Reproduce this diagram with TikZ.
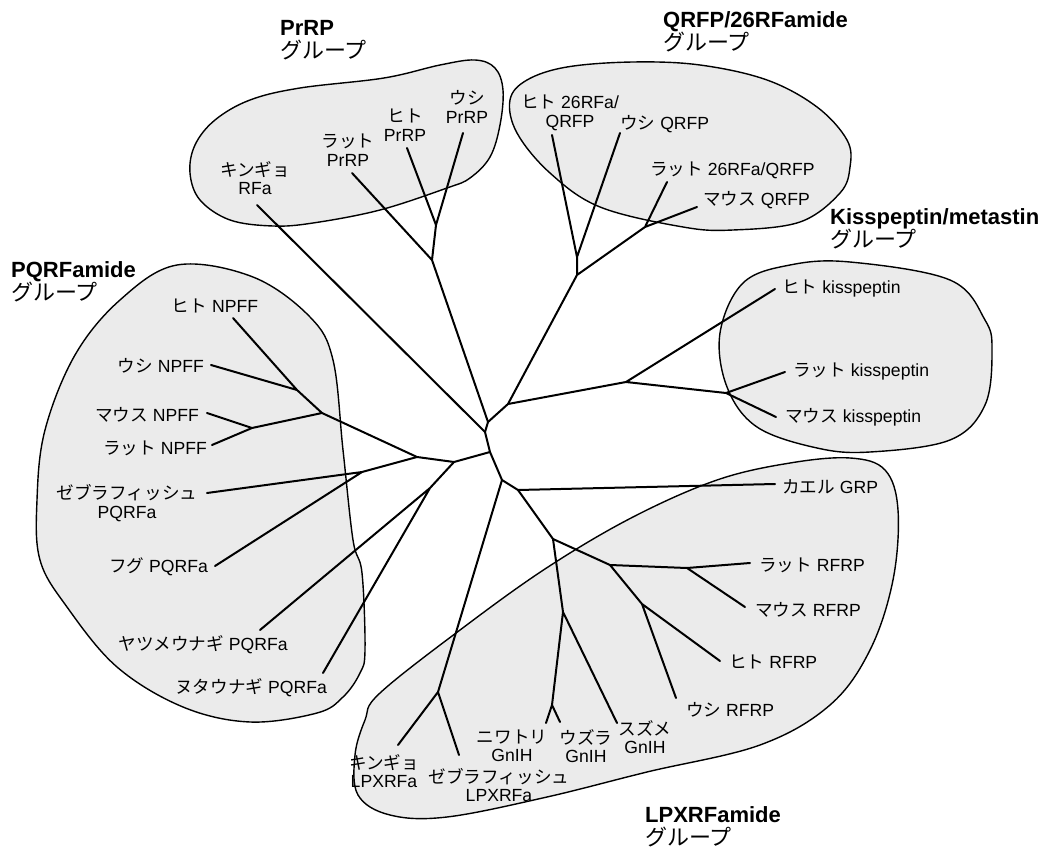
\documentclass[tikz,border=0pt]{standalone}
\usepackage{fontspec}
\setmainfont{Liberation Sans}
\newfontfamily\jpfont{Noto Sans CJK JP}
\newcommand{\jp}[1]{{\jpfont #1}}
\definecolor{blobgray}{HTML}{EBEBEB}

\begin{document}
\begin{tikzpicture}[x=1pt, y=-1pt,
    branch/.style = {line width=2pt, line cap=round},
    grp/.style = {draw, line width=1.4pt, fill=blobgray},
    lbl/.style = {font=\fontsize{17.6}{18.5}\selectfont, align=center, inner sep=0pt},
    ttl/.style = {font=\fontsize{22}{23.5}\selectfont, align=left, anchor=north west, inner sep=0pt}]
\useasboundingbox (0,0) rectangle (1046,850);

    % group outlines
    \draw[grp] plot[smooth cycle, tension=0.6] coordinates {(190,173) (195,145) (215,120) (250,100) (300,88) (384,78) (440,65) (475,60) (495,68) (503,90) (500,125) (490,157) (470,178) (447,188) (380,210) (313,223) (273,226) (230,220) (200,200)};
    \draw[grp] plot[smooth cycle, tension=0.6] coordinates {(510,100) (527,80) (567,67) (633,62) (700,65) (767,80) (817,107) (847,140) (850,167) (840,193) (800,222) (733,230) (683,227) (600,207) (550,173) (517,133)};
    \draw[grp] plot[smooth cycle, tension=0.6] coordinates {(720,333) (743,283) (790,265) (850,262) (950,280) (985,320) (992,350) (985,405) (950,440) (870,452) (817,448) (757,427) (727,387)};
    \draw[grp] plot[smooth cycle, tension=0.6] coordinates {(177,265) (120,300) (75,355) (45,430) (37,500) (40,560) (67,607) (117,667) (183,707) (250,722) (317,713) (343,697) (360,673) (365,650) (362,573) (353,540) (343,450) (333,360) (310,317) (253,277)};
    \draw[grp] plot[smooth cycle, tension=0.6] coordinates {(380,693) (464,627) (548,567) (633,517) (717,480) (790,463) (850,458) (885,470) (898,510) (893,580) (870,650) (830,705) (760,745) (647,772) (547,797) (447,817) (390,815) (358,795) (355,755) (365,720)};

    % group titles
    \node[ttl] (tPrRP) at (280,20) {\textbf{PrRP}\\\jp{グループ}};
    \node[ttl] (tQRFP) at (663,11) {\textbf{QRFP/26RFamide}\\\jp{グループ}};
    \node[ttl] (tKiss) at (830,208) {\textbf{Kisspeptin/metastin}\\\jp{グループ}};
    \node[ttl] (tPQRF) at (11,261) {\textbf{PQRFamide}\\\jp{グループ}};
    \node[ttl] (tLPX) at (645,806) {\textbf{LPXRFamide}\\\jp{グループ}};

    % inner joints
    \coordinate (c1) at (488,422);
    \coordinate (c2) at (485,432);
    \coordinate (c3) at (490,452);
    \coordinate (c4) at (502,480);
    \coordinate (c5) at (518,490);
    \coordinate (pj1) at (432,260);
    \coordinate (pj2) at (436,225);
    \coordinate (q0) at (508,404);
    \coordinate (qj0) at (577,275);
    \coordinate (qj1) at (577,257);
    \coordinate (qj2) at (645,227);
    \coordinate (kj1) at (626,382);
    \coordinate (kj2) at (726,393);
    \coordinate (aj0) at (454,462);
    \coordinate (aj1) at (417,457);
    \coordinate (nj0) at (322,413);
    \coordinate (nj1) at (297,390);
    \coordinate (nj2) at (252,428);
    \coordinate (fj) at (362,472);
    \coordinate (hj) at (430,488);
    \coordinate (lj) at (438,692);
    \coordinate (rj0) at (553,539);
    \coordinate (rj1) at (610,565);
    \coordinate (rj2) at (687,568);
    \coordinate (rj3) at (642,604);
    \coordinate (gj0) at (563,612);
    \coordinate (gj1) at (552,705);

    % leaf ends
    \coordinate (lkRFa) at (257,205);
    \coordinate (lrPrRP) at (352,173);
    \coordinate (lhPrRP) at (407,148);
    \coordinate (luPrRP) at (463,133);
    \coordinate (lhQRFP) at (552,135);
    \coordinate (luQRFP) at (620,133);
    \coordinate (lrQRFP) at (667,182);
    \coordinate (lmQRFP) at (697,207);
    \coordinate (lhKiss) at (775,289);
    \coordinate (lrKiss) at (785,372);
    \coordinate (lmKiss) at (776,417);
    \coordinate (lhNPFF) at (233,318);
    \coordinate (luNPFF) at (211,365);
    \coordinate (lmNPFF) at (207,413);
    \coordinate (lrNPFF) at (212,445);
    \coordinate (lzPQ) at (207,493);
    \coordinate (lfPQ) at (215,566);
    \coordinate (lyPQ) at (260,630);
    \coordinate (lnPQ) at (323,673);
    \coordinate (lGRP) at (775,484);
    \coordinate (lrRF) at (750,563);
    \coordinate (lmRF) at (745,607);
    \coordinate (lhRF) at (720,661);
    \coordinate (luRF) at (676,698);
    \coordinate (lnGn) at (546,723);
    \coordinate (lwGn) at (560,722);
    \coordinate (lsGn) at (617,723);
    \coordinate (lkLPX) at (398,745);
    \coordinate (lzLPX) at (459,755);

    % tree
    \draw[branch] (lkRFa) -- (c2) -- (c3) -- (c4) -- (c5) -- (lGRP);
    \draw[branch] (c2) -- (c1) -- (q0) -- (kj1) -- (lhKiss) (kj1) -- (kj2) -- (lrKiss) (kj2) -- (lmKiss);
    \draw[branch] (c1) -- (pj1) -- (pj2) -- (lhPrRP) (pj2) -- (luPrRP) (pj1) -- (lrPrRP);
    \draw[branch] (q0) -- (qj0) -- (qj1) -- (lhQRFP) (qj1) -- (luQRFP) (qj0) -- (qj2) -- (lrQRFP) (qj2) -- (lmQRFP);
    \draw[branch] (c3) -- (aj0) -- (aj1) -- (nj0) -- (nj1) -- (lhNPFF) (nj1) -- (luNPFF) (nj0) -- (nj2) -- (lmNPFF) (nj2) -- (lrNPFF);
    \draw[branch] (aj1) -- (fj) -- (lzPQ) (fj) -- (lfPQ);
    \draw[branch] (aj0) -- (hj) -- (lyPQ) (hj) -- (lnPQ);
    \draw[branch] (c4) -- (lj) -- (lkLPX) (lj) -- (lzLPX);
    \draw[branch] (c5) -- (rj0) -- (rj1) -- (rj2) -- (lrRF) (rj2) -- (lmRF) (rj1) -- (rj3) -- (lhRF) (rj3) -- (luRF);
    \draw[branch] (rj0) -- (gj0) -- (gj1) -- (lnGn) (gj1) -- (lwGn) (gj0) -- (lsGn);

    % labels
    \node[lbl] (kRFa) at (255,178) {\jp{キンギョ}\\RFa};
    \node[lbl] (rPrRP) at (348,150) {\jp{ラット}\\PrRP};
    \node[lbl] (hPrRP) at (405,125) {\jp{ヒト}\\PrRP};
    \node[lbl] (uPrRP) at (467,107) {\jp{ウシ}\\PrRP};
    \node[lbl] (hQRFP) at (570,113) {\jp{ヒト} 26RFa/\\QRFP};
    \node[lbl, anchor=west] (uQRFP) at (620,124) {\jp{ウシ} QRFP};
    \node[lbl, anchor=west] (rQRFP) at (650,170) {\jp{ラット} 26RFa/QRFP};
    \node[lbl, anchor=west] (mQRFP) at (703,200) {\jp{マウス} QRFP};
    \node[lbl, anchor=west] (hKiss) at (782,289) {\jp{ヒト} kisspeptin};
    \node[lbl, anchor=west] (rKiss) at (793,372) {\jp{ラット} kisspeptin};
    \node[lbl, anchor=west] (mKiss) at (785,417) {\jp{マウス} kisspeptin};
    \node[lbl] (hNPFF) at (215,306) {\jp{ヒト} NPFF};
    \node[lbl, anchor=east] (uNPFF) at (204,366) {\jp{ウシ} NPFF};
    \node[lbl, anchor=east] (mNPFF) at (199,415) {\jp{マウス} NPFF};
    \node[lbl, anchor=east] (rNPFF) at (207,448) {\jp{ラット} NPFF};
    \node[lbl] (zPQ) at (127,503) {\jp{ゼブラフィッシュ}\\PQRFa};
    \node[lbl, anchor=east] (fPQ) at (208,567) {\jp{フグ} PQRFa};
    \node[lbl] (yPQ) at (203,645) {\jp{ヤツメウナギ} PQRFa};
    \node[lbl, anchor=east] (nPQ) at (327,688) {\jp{ヌタウナギ} PQRFa};
    \node[lbl, anchor=west] (GRP) at (782,487) {\jp{カエル} GRP};
    \node[lbl, anchor=west] (rRF) at (759,565) {\jp{ラット} RFRP};
    \node[lbl, anchor=west] (mRF) at (755,610) {\jp{マウス} RFRP};
    \node[lbl, anchor=west] (hRF) at (729,662) {\jp{ヒト} RFRP};
    \node[lbl] (uRF) at (730,710) {\jp{ウシ} RFRP};
    \node[lbl] (nGn) at (512,746) {\jp{ニワトリ}\\GnIH};
    \node[lbl] (wGn) at (586,746) {\jp{ウズラ}\\GnIH};
    \node[lbl] (sGn) at (645,737) {\jp{スズメ}\\GnIH};
    \node[lbl] (kLPX) at (384,771) {\jp{キンギョ}\\LPXRFa};
    \node[lbl] (zLPX) at (499,785) {\jp{ゼブラフィッシュ}\\LPXRFa};

\end{tikzpicture}
\end{document}
